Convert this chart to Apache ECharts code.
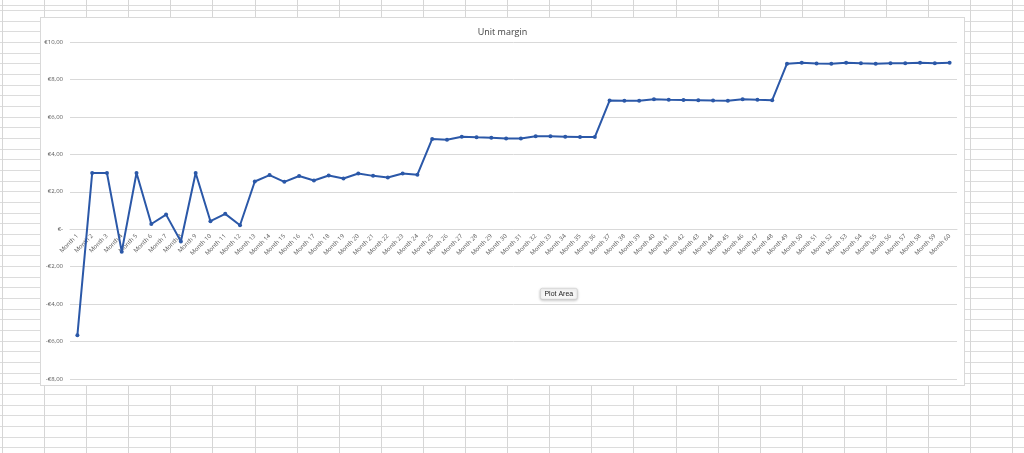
<!DOCTYPE html>
<html lang="en">

<head>
    <meta charset="UTF-8">
    <title>Unit margin</title>
    <style>
        html,
        body {
            margin: 0;
            width: 1024px;
            height: 453px;
            overflow: hidden;
        }

        body {
            background-color: #fff;
            background-image:
                repeating-linear-gradient(to right, #d6d6d6 0 1px, transparent 1px 42.1px),
                repeating-linear-gradient(to bottom, #dcdcdc 0 1px, transparent 1px 10.67px);
            background-position: 2px 0, 0 10px;
        }

        #main {
            position: absolute;
            left: 40px;
            top: 17px;
            width: 923px;
            height: 367px;
            background: #fff;
            border: 1px solid #d9d9d9;
        }
    </style>
    <script src="https://cdnjs.cloudflare.com/ajax/libs/echarts/6.0.0/echarts.min.js"></script>
</head>

<body>
    <div id="main"></div>
    <script>
        const months = [];
        for (let i = 1; i <= 60; i++) months.push('Month ' + i);

        const margin = [
            -5.66, 3.00, 3.00, -1.20, 3.00, 0.28, 0.78, -0.66, 3.00, 0.43,
            0.82, 0.21, 2.55, 2.89, 2.53, 2.84, 2.60, 2.87, 2.71, 2.98,
            2.85, 2.76, 2.98, 2.91, 4.82, 4.78, 4.94, 4.91, 4.89, 4.85,
            4.84, 4.97, 4.96, 4.94, 4.92, 4.92, 6.87, 6.86, 6.86, 6.94,
            6.91, 6.90, 6.89, 6.87, 6.86, 6.94, 6.91, 6.89, 8.84, 8.89,
            8.85, 8.84, 8.89, 8.86, 8.84, 8.87, 8.86, 8.89, 8.86, 8.89
        ];

        const yMin = -8, yMax = 10, yStep = 2;

        function euro(v) {
            if (v === 0) return '€-';
            const s = '€' + Math.abs(v).toFixed(2).replace('.', ',');
            return v < 0 ? '-' + s : s;
        }

        const chart = echarts.init(document.getElementById('main'));

        chart.setOption({
            animation: false,
            title: {
                text: 'Unit margin',
                left: 'center',
                top: 5,
                textStyle: {
                    fontFamily: 'Open Sans',
                    fontSize: 9,
                    fontWeight: 'normal',
                    color: '#404040'
                }
            },
            grid: {
                left: 29,
                right: 7,
                top: 24,
                bottom: 6,
                containLabel: false,
                outerBoundsMode: 'none'
            },
            xAxis: {
                type: 'category',
                data: months,
                boundaryGap: true,
                position: 'bottom',
                axisLine: { show: true, onZero: false, lineStyle: { color: '#d9d9d9' } },
                axisTick: { show: false },
                axisLabel: {
                    interval: 0,
                    rotate: 45,
                    margin: 6,
                    fontSize: 6,
                    fontFamily: 'Open Sans',
                    color: '#595959'
                }
            },
            yAxis: {
                type: 'value',
                min: yMin,
                max: yMax,
                interval: yStep,
                axisLine: { show: false },
                axisTick: { show: false },
                axisLabel: {
                    formatter: euro,
                    fontSize: 6,
                    fontFamily: 'Open Sans',
                    color: '#595959',
                    margin: 7
                },
                splitLine: { lineStyle: { color: '#d9d9d9', width: 1 } }
            },
            series: [{
                name: 'Unit margin',
                type: 'line',
                data: margin,
                symbol: 'circle',
                symbolSize: 4,
                lineStyle: { color: '#2b58a8', width: 2 },
                itemStyle: { color: '#2b58a8' }
            }],
            graphic: [{
                type: 'group',
                left: 499,
                top: 270,
                children: [{
                    type: 'rect',
                    shape: { x: 0, y: 0, width: 37, height: 11, r: 2 },
                    style: {
                        fill: '#f7f7f7',
                        stroke: '#c8c8c8',
                        lineWidth: 0.6,
                        shadowBlur: 3,
                        shadowColor: 'rgba(0,0,0,0.25)',
                        shadowOffsetY: 1
                    }
                }, {
                    type: 'text',
                    x: 18.5,
                    y: 5.5,
                    style: {
                        text: 'Plot Area',
                        fontSize: 7,
                        fontFamily: 'Liberation Sans',
                        fill: '#222',
                        align: 'center',
                        verticalAlign: 'middle'
                    }
                }]
            }]
        });

        // move the category axis up to the zero line (Excel style crossing)
        const zeroY = chart.convertToPixel({ yAxisIndex: 0 }, 0);
        const baseY = chart.convertToPixel({ yAxisIndex: 0 }, yMin);
        chart.setOption({ xAxis: { offset: zeroY - baseY } });
    </script>
</body>

</html>
